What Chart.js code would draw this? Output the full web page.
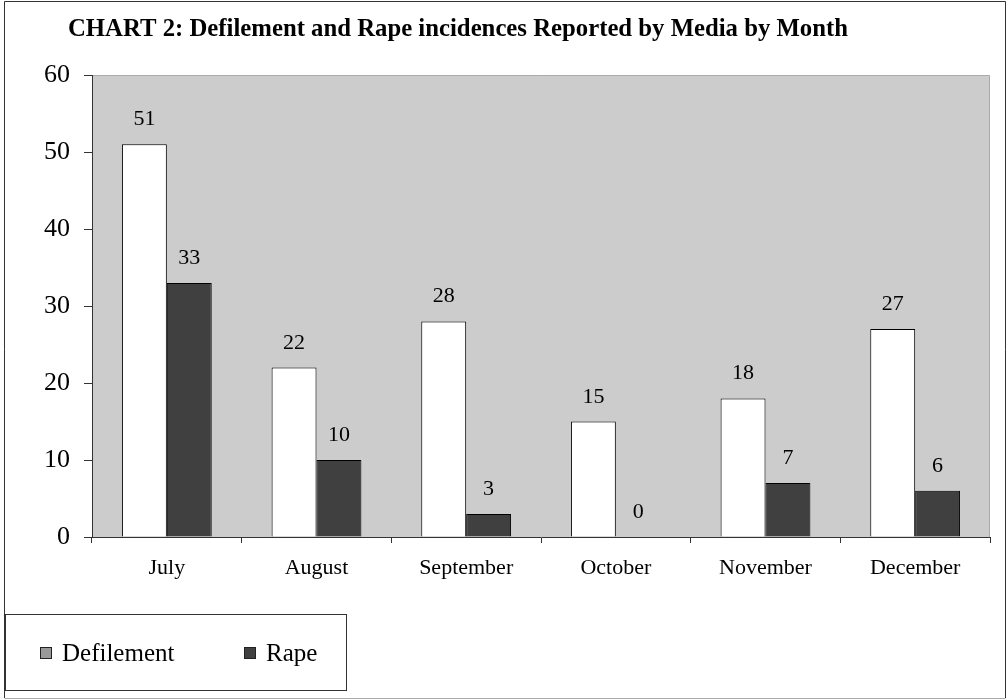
<!DOCTYPE html>
<html>
<head>
<meta charset="utf-8">
<script src="https://cdn.jsdelivr.net/npm/chart.js@4/dist/chart.umd.min.js"></script>
<style>
  html, body { margin: 0; padding: 0; background: #fff; }
  #wrap { width: 1008px; height: 700px; position: relative; }
</style>
</head>
<body>
<div id="wrap"><canvas id="mediaChart" width="1008" height="700"></canvas></div>
<script>
const months = ['July', 'August', 'September', 'October', 'November', 'December'];
const defilement = [51, 22, 28, 15, 18, 27];
const rape = [33, 10, 3, 0, 7, 6];
const yTicks = [0, 10, 20, 30, 40, 50, 60];
const seriesNames = ['Defilement', 'Rape'];

const serif = '"Liberation Serif", "Times New Roman", serif';

// fondo gris del area del grafico + marco exterior
const fondoPlugin = {
  id: 'fondo',
  beforeDraw(chart) {
    const { ctx, chartArea } = chart;
    ctx.save();
    ctx.fillStyle = '#fff';
    ctx.fillRect(0, 0, chart.width, chart.height);
    ctx.fillStyle = '#cccccc';
    ctx.fillRect(chartArea.left, chartArea.top, chartArea.right - chartArea.left, chartArea.bottom - chartArea.top);
    ctx.strokeStyle = '#aaa';
    ctx.lineWidth = 1;
    ctx.beginPath();
    ctx.moveTo(chartArea.left, chartArea.top + 0.5);
    ctx.lineTo(chartArea.right - 0.5, chartArea.top + 0.5);
    ctx.lineTo(chartArea.right - 0.5, chartArea.bottom);
    ctx.stroke();
    // marco
    ctx.strokeStyle = '#333';
    ctx.beginPath();
    ctx.moveTo(4.5, 698);
    ctx.lineTo(4.5, 1.5);
    ctx.lineTo(1005.5, 1.5);
    ctx.lineTo(1005.5, 698);
    ctx.stroke();
    ctx.strokeStyle = '#aaa';
    ctx.beginPath();
    ctx.moveTo(4.5, 698.5);
    ctx.lineTo(1005.5, 698.5);
    ctx.stroke();
    ctx.restore();
  }
};

// titulo, etiquetas de valores y leyenda
const textoPlugin = {
  id: 'texto',
  afterDraw(chart) {
    const { ctx } = chart;
    ctx.save();
    ctx.fillStyle = '#000';
    ctx.font = 'bold 25px ' + serif;
    ctx.textBaseline = 'alphabetic';
    ctx.textAlign = 'left';
    const titulo = 'CHART 2: Defilement and Rape incidences Reported by Media by Month';
    const ancho = ctx.measureText(titulo).width;
    ctx.save();
    ctx.translate(68, 36);
    ctx.scale(780 / ancho, 1);
    ctx.fillText(titulo, 0, 0);
    ctx.restore();

    // valores sobre las barras
    ctx.font = '22px ' + serif;
    ctx.textAlign = 'center';
    chart.data.datasets.forEach((ds, i) => {
      chart.getDatasetMeta(i).data.forEach((bar, j) => {
        ctx.fillText(String(ds.data[j]), bar.x, bar.y - 19);
      });
    });

    // leyenda
    ctx.strokeStyle = '#333';
    ctx.lineWidth = 1;
    ctx.strokeRect(5.5, 614.5, 341, 76);
    const legendColors = ['#999999', '#404040'];
    const legendX = [40, 244];
    ctx.font = '25px ' + serif;
    ctx.textAlign = 'left';
    seriesNames.forEach((name, i) => {
      ctx.fillStyle = legendColors[i];
      ctx.fillRect(legendX[i], 647, 12, 12);
      ctx.strokeStyle = '#222';
      ctx.strokeRect(legendX[i] + 0.5, 647.5, 11, 11);
      ctx.fillStyle = '#000';
      ctx.fillText(name, legendX[i] + 22, 661);
    });
    ctx.restore();
  }
};

new Chart(document.getElementById('mediaChart'), {
  type: 'bar',
  data: {
    labels: months,
    datasets: [{
      label: seriesNames[0],
      data: defilement,
      backgroundColor: '#ffffff',
      borderColor: '#000',
      borderWidth: 1,
      borderSkipped: 'bottom',
      categoryPercentage: 0.6,
      barPercentage: 1.0
    }, {
      label: seriesNames[1],
      data: rape,
      backgroundColor: '#404040',
      borderColor: '#000',
      borderWidth: 1,
      borderSkipped: 'bottom',
      categoryPercentage: 0.6,
      barPercentage: 1.0
    }]
  },
  options: {
    responsive: false,
    animation: false,
    devicePixelRatio: 1,
    layout: {
      padding: { top: 75, right: 18, bottom: 113, left: 0 }
    },
    plugins: {
      legend: { display: false },
      title: { display: false },
      tooltip: { enabled: false }
    },
    scales: {
      x: {
        offset: true,
        grid: {
          display: true,
          drawOnChartArea: false,
          offset: true,
          tickLength: 6,
          color: '#333'
        },
        border: { color: '#333', width: 1 },
        ticks: {
          color: '#000',
          font: { family: serif, size: 22 },
          padding: 12,
          maxRotation: 0,
          autoSkip: false
        },
        afterFit: scale => { scale.height = 50; }
      },
      y: {
        min: 0,
        max: 60,
        afterBuildTicks: scale => { scale.ticks = yTicks.map(v => ({ value: v })); },
        grid: {
          display: true,
          drawOnChartArea: false,
          tickLength: 8,
          color: '#333'
        },
        border: { color: '#333', width: 1 },
        ticks: {
          color: '#000',
          font: { family: serif, size: 26 },
          padding: 14
        },
        afterFit: scale => { scale.width = 92; }
      }
    }
  },
  plugins: [fondoPlugin, textoPlugin]
});
</script>
</body>
</html>
